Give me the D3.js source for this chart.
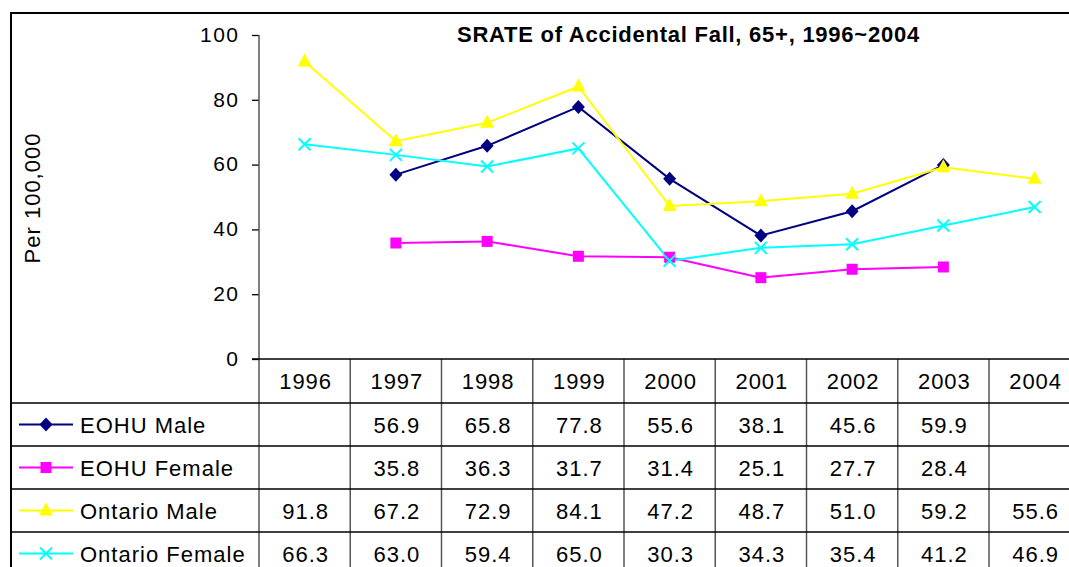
<!DOCTYPE html>
<html>
<head>
<meta charset="utf-8">
<script src="https://cdn.jsdelivr.net/npm/d3@7/dist/d3.min.js"></script>
<style>
  body { margin: 0; background: #fff; }
  text { font-family: "Liberation Sans", Arial, sans-serif; fill: #000; }
</style>
</head>
<body>
<script>
//chart data
var years = ["1996", "1997", "1998", "1999", "2000", "2001", "2002", "2003", "2004"];
var seriesNames = ["EOHU Male", "EOHU Female", "Ontario Male", "Ontario Female"];
var eohuMale = [null, 56.9, 65.8, 77.8, 55.6, 38.1, 45.6, 59.9, null];
var eohuFemale = [null, 35.8, 36.3, 31.7, 31.4, 25.1, 27.7, 28.4, null];
var ontarioMale = [91.8, 67.2, 72.9, 84.1, 47.2, 48.7, 51.0, 59.2, 55.6];
var ontarioFemale = [66.3, 63.0, 59.4, 65.0, 30.3, 34.3, 35.4, 41.2, 46.9];
var yTicks = [0, 20, 40, 60, 80, 100];

window.onload = function(){

    var w = 1069, h = 567;

    var series = [
        {name: seriesNames[0], values: eohuMale, color: "#000080", symbol: "diamond"},
        {name: seriesNames[1], values: eohuFemale, color: "#FF00FF", symbol: "square"},
        {name: seriesNames[2], values: ontarioMale, color: "#FFFF00", symbol: "triangle"},
        {name: seriesNames[3], values: ontarioFemale, color: "#00FFFF", symbol: "x"}
    ];

    var svg = d3.select("body")
        .append("svg")
        .attr("width", w)
        .attr("height", h);

    //scales
    var x = d3.scaleBand()
        .domain(years)
        .range([259, 259 + 91.25 * years.length]);

    var y = d3.scaleLinear()
        .domain([0, 100])
        .range([359, 35]);

    //table rows below the axis
    var row = d3.scaleBand()
        .domain(seriesNames)
        .range([403, 403 + 43 * seriesNames.length]);

    //outer frame
    svg.append("line")
        .attr("x1", 10).attr("x2", w)
        .attr("y1", 13).attr("y2", 13)
        .style("stroke", "#000").style("stroke-width", 2);
    svg.append("line")
        .attr("x1", 11).attr("x2", 11)
        .attr("y1", 13).attr("y2", h)
        .style("stroke", "#000").style("stroke-width", 2);

    //y axis
    var yAxis = d3.axisLeft(y)
        .tickValues(yTicks)
        .tickSize(7)
        .tickPadding(12.5);

    var axis = svg.append("g")
        .attr("transform", "translate(259,0)")
        .call(yAxis);
    axis.select(".domain").remove();
    axis.selectAll("line").style("stroke", "#000").style("stroke-width", 1.3);
    axis.selectAll("text")
        .style("font-family", "'Liberation Sans', Arial, sans-serif")
        .style("font-size", "21px")
        .style("letter-spacing", "1.5px")
        .attr("dy", "0.3em");

    //y axis line, continuing down through the table
    svg.append("line")
        .attr("x1", 259).attr("x2", 259)
        .attr("y1", y(100)).attr("y2", h)
        .style("stroke", "#555").style("stroke-width", 1.5);

    //vertical table lines
    svg.selectAll(".vline")
        .data(years.slice(1))
        .enter()
        .append("line")
        .attr("class", "vline")
        .attr("x1", function(d){ return x(d); })
        .attr("x2", function(d){ return x(d); })
        .attr("y1", y(0)).attr("y2", h)
        .style("stroke", "#555").style("stroke-width", 1.5);

    //horizontal table lines
    svg.append("line")
        .attr("x1", 252).attr("x2", w)
        .attr("y1", y(0)).attr("y2", y(0))
        .style("stroke", "#000").style("stroke-width", 1.3);
    svg.selectAll(".hline")
        .data(seriesNames)
        .enter()
        .append("line")
        .attr("class", "hline")
        .attr("x1", 11).attr("x2", w)
        .attr("y1", function(d){ return row(d); })
        .attr("y2", function(d){ return row(d); })
        .style("stroke", "#000").style("stroke-width", 1.3);

    //year labels
    svg.selectAll(".yearLabel")
        .data(years)
        .enter()
        .append("text")
        .attr("class", "yearLabel")
        .attr("text-anchor", "middle")
        .attr("x", function(d){ return x(d) + x.bandwidth() / 2 + 1; })
        .attr("y", 389)
        .style("font-size", "22px")
        .style("letter-spacing", "1px")
        .text(function(d){ return d; });

    //lines
    var line = d3.line()
        .defined(function(d){ return d != null; })
        .x(function(d, i){ return x(years[i]) + x.bandwidth() / 2; })
        .y(function(d){ return y(d); });

    svg.selectAll(".series")
        .data(series)
        .enter()
        .append("path")
        .attr("class", "series")
        .attr("d", function(s){ return line(s.values); })
        .style("fill", "none")
        .style("stroke", function(s){ return s.color; })
        .style("stroke-width", 2);

    //marker helper
    function drawMarker(g, s, cx, cy){
        var d;
        if (s.symbol === "x") {
            var r = 6;
            g.append("path")
                .attr("d", "M" + (cx - r) + "," + (cy - r) + "L" + (cx + r) + "," + (cy + r) +
                           "M" + (cx - r) + "," + (cy + r) + "L" + (cx + r) + "," + (cy - r))
                .style("stroke", s.color)
                .style("stroke-width", 2)
                .style("fill", "none");
            return;
        }
        if (s.symbol === "diamond") {
            d = "M0,-7L6.5,0L0,7L-6.5,0Z";
        } else if (s.symbol === "square") {
            d = "M-5.5,-5.5H5.5V5.5H-5.5Z";
        } else {
            d = "M0,-8L7,5H-7Z";
        }
        g.append("path")
            .attr("d", d)
            .attr("transform", "translate(" + cx + "," + cy + ")")
            .style("fill", s.color);
    }

    var markers = svg.append("g");
    series.forEach(function(s){
        s.values.forEach(function(v, i){
            if (v == null) return;
            drawMarker(markers, s, x(years[i]) + x.bandwidth() / 2, y(v));
        });
    });

    //table rows: legend keys, names, values
    series.forEach(function(s){
        var cy = row(s.name) + row.bandwidth() / 2;
        svg.append("line")
            .attr("x1", 19).attr("x2", 73)
            .attr("y1", cy).attr("y2", cy)
            .style("stroke", s.color).style("stroke-width", 2);
        drawMarker(svg, s, 46, cy);
        svg.append("text")
            .attr("x", 80)
            .attr("y", cy + 8)
            .style("font-size", "22px")
            .style("letter-spacing", "1px")
            .text(s.name);

        svg.selectAll(null)
            .data(s.values)
            .enter()
            .append("text")
            .attr("text-anchor", "middle")
            .attr("x", function(d, i){ return x(years[i]) + x.bandwidth() / 2 + 1; })
            .attr("y", cy + 8)
            .style("font-size", "22px")
            .style("letter-spacing", "1px")
            .text(function(d){ return d == null ? "" : d.toFixed(1); });
    });

    //axis title
    svg.append("text")
        .attr("transform", "translate(40,198) rotate(-90)")
        .attr("text-anchor", "middle")
        .style("font-size", "22px")
        .style("letter-spacing", "1px")
        .text("Per 100,000");

    //chart title
    svg.append("text")
        .attr("x", 457)
        .attr("y", 42)
        .style("font-size", "22px")
        .style("font-weight", "bold")
        .style("letter-spacing", "0.75px")
        .text("SRATE of Accidental Fall, 65+, 1996~2004");
};
</script>
</body>
</html>
